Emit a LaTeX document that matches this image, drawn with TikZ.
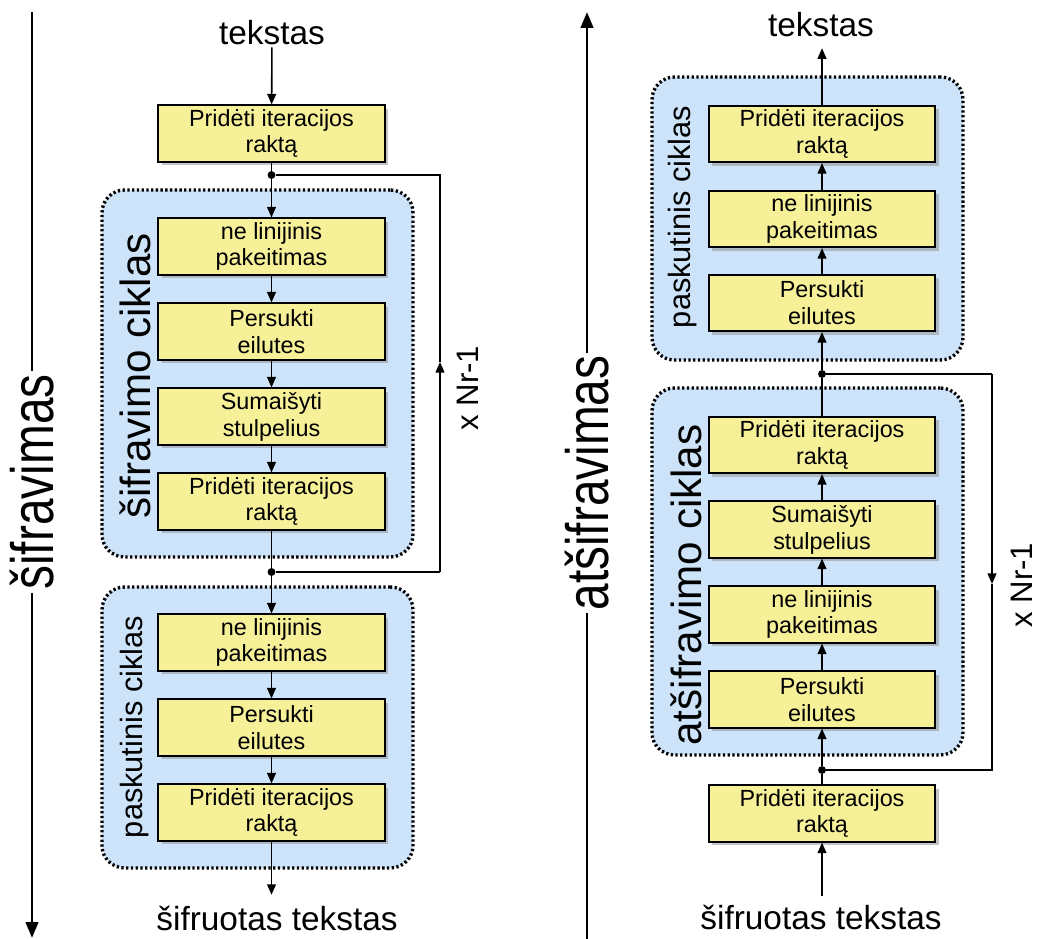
\documentclass[tikz,border=0pt]{standalone}
\usepackage{fontspec}
\setmainfont{Liberation Sans}
\newfontfamily\narrowfont[FakeStretch=0.8]{Liberation Sans}
\usetikzlibrary{arrows.meta,shadows}
\definecolor{LoopBlue}{RGB}{205,227,249}
\definecolor{StepYellow}{RGB}{246,240,152}

\begin{document}
\begin{tikzpicture}[
    x=0.02cm, y=-0.02cm,
    stepbox/.style={rectangle, draw=black, line width=0.9pt, fill=StepYellow, minimum width=4.53cm, minimum height=1.13cm, inner sep=0pt, align=center, font=\fontsize{13.3}{15.3}\selectfont, drop shadow={shadow xshift=2pt, shadow yshift=-2pt, fill=black!45}},
    loopframe/.style={rectangle, rounded corners=0.45cm, draw=black, line width=1.9pt, dash pattern=on 1.3pt off 1.4pt, fill=LoopBlue, minimum width=6.22cm},
    arrow/.style={-{Triangle[length=6pt,width=5pt]}, line width=0.9pt},
    wire/.style={line width=0.9pt},
    joint/.style={circle, fill=black, minimum size=4.5pt, inner sep=0pt},
    iotext/.style={font=\fontsize{19}{22}\selectfont, inner sep=1pt, anchor=base},
    looptext/.style={rotate=90, font=\fontsize{24}{28}\selectfont},
    lasttext/.style={rotate=90, font=\fontsize{17.5}{20}\selectfont},
    repeattext/.style={rotate=90, font=\fontsize{17.7}{20}\selectfont},
    sidetext/.style={rotate=90, font=\narrowfont\fontsize{34}{38}\selectfont, inner sep=1.5pt},
    sidearrow/.style={-{Triangle[length=9pt,width=7pt]}, line width=1.6pt}
]
\useasboundingbox (0,0) rectangle (1037,939);

% === SIFRAVIMAS ===
\coordinate (ltop) at (32,12);
\coordinate (lbot) at (32,938);
\node[sidetext] (lside) at (32,482) {šifravimas};
\draw[sidearrow, -] (ltop) -- (lside);
\draw[sidearrow] (lside) -- (lbot);

\node[loopframe, minimum height=7.34cm] (encloop) at (257.5,373.5) {};
\node[loopframe, minimum height=5.62cm] (enclast) at (257.5,727.5) {};
\node[looptext] (enclooptxt) at (135,376) {šifravimo ciklas};
\node[lasttext] (enclasttxt) at (135,727) {paskutinis ciklas};

\node[iotext] (lin) at (272,45) {tekstas};
\node[stepbox] (b1) at (271.5,133.5) {Pridėti iteracijos\\raktą};
\node[joint] (d1) at (271.5,175) {};
\node[stepbox] (b2) at (271.5,246.5) {ne linijinis\\pakeitimas};
\node[stepbox] (b3) at (271.5,331.5) {Persukti\\eilutes};
\node[stepbox] (b4) at (271.5,416.5) {Sumaišyti\\stulpelius};
\node[stepbox] (b5) at (271.5,501.5) {Pridėti iteracijos\\raktą};
\node[joint] (d2) at (271.5,572) {};
\node[stepbox] (b6) at (271.5,642.5) {ne linijinis\\pakeitimas};
\node[stepbox] (b7) at (271.5,727.5) {Persukti\\eilutes};
\node[stepbox] (b8) at (271.5,812.5) {Pridėti iteracijos\\raktą};
\node[iotext] (lout) at (277,930) {šifruotas tekstas};

\draw[arrow] (lin) -- (b1);
\draw[wire] (b1) -- (d1);
\draw[arrow] (d1) -- (b2);
\draw[arrow] (b2) -- (b3);
\draw[arrow] (b3) -- (b4);
\draw[arrow] (b4) -- (b5);
\draw[wire] (b5) -- (d2);
\draw[arrow] (d2) -- (b6);
\draw[arrow] (b6) -- (b7);
\draw[arrow] (b7) -- (b8);
\draw[arrow, shorten >=5pt] (b8.south) -- (b8.south |- lout.north);

\coordinate (lr1) at (440,175);
\coordinate (lmid) at (440,362);
\coordinate (lr2) at (440,572);
\draw[wire] (d2) -- (lr2);
\draw[arrow] (lr2) -- (lmid);
\draw[wire] (lmid) -- (lr1) -- (d1);
\node[repeattext] (lrep) at (468,388) {x Nr-1};

% === ATSIFRAVIMAS ===
\coordinate (rtop) at (587,12);
\coordinate (rbot) at (587,939);
\node[sidetext] (rside) at (587,483) {atšifravimas};
\draw[sidearrow, -] (rbot) -- (rside);
\draw[sidearrow] (rside) -- (rtop);

\node[loopframe, minimum height=5.66cm] (declast) at (807.5,218.5) {};
\node[loopframe, minimum height=7.34cm] (decloop) at (807.5,571.5) {};
\node[lasttext] (declasttxt) at (683,217) {paskutinis ciklas};
\node[looptext] (declooptxt) at (686,585) {atšifravimo ciklas};

\node[iotext] (rout) at (821,37) {tekstas};
\node[stepbox] (r1) at (822,134) {Pridėti iteracijos\\raktą};
\node[stepbox] (r2) at (822,219) {ne linijinis\\pakeitimas};
\node[stepbox] (r3) at (822,303) {Persukti\\eilutes};
\node[joint] (d3) at (822,374) {};
\node[stepbox] (r4) at (822,445) {Pridėti iteracijos\\raktą};
\node[stepbox] (r5) at (822,529.5) {Sumaišyti\\stulpelius};
\node[stepbox] (r6) at (822,614.5) {ne linijinis\\pakeitimas};
\node[stepbox] (r7) at (822,699.5) {Persukti\\eilutes};
\node[joint] (d4) at (822,770) {};
\node[stepbox] (r8) at (822,813.5) {Pridėti iteracijos\\raktą};
\node[iotext] (rin) at (821,929) {šifruotas tekstas};

\draw[arrow, shorten <=4pt] (rin.north -| r8.south) -- (r8.south);
\draw[wire] (r8) -- (d4);
\draw[arrow] (d4) -- (r7);
\draw[arrow] (r7) -- (r6);
\draw[arrow] (r6) -- (r5);
\draw[arrow] (r5) -- (r4);
\draw[wire] (r4) -- (d3);
\draw[arrow] (d3) -- (r3);
\draw[arrow] (r3) -- (r2);
\draw[arrow] (r2) -- (r1);
\draw[arrow, shorten >=5pt] (r1.north) -- (r1.north |- rout.south);

\coordinate (rr1) at (992,374);
\coordinate (rmid) at (992,584);
\coordinate (rr2) at (992,770);
\draw[wire] (d3) -- (rr1);
\draw[arrow] (rr1) -- (rmid);
\draw[wire] (rmid) -- (rr2) -- (d4);
\node[repeattext] (rrep) at (1022,585) {x Nr-1};

\end{tikzpicture}
\end{document}
